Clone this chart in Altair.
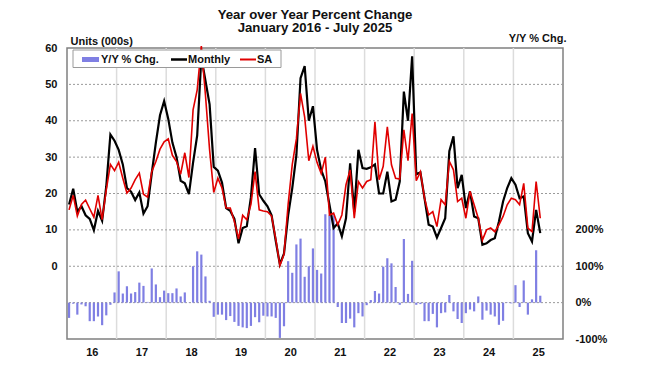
import altair as alt
import pandas as pd

# ---- data (Jan 2016 .. Jul 2025, monthly) ----
monthly = [17.0, 21.3, 15.0, 16.5, 14.0, 13.0, 9.9, 15.2, 12.5, 22.0, 36.2, 34.5,
           32.0, 28.0, 21.5, 20.5, 18.2, 20.3, 14.5, 16.5, 25.5, 34.0, 41.5, 45.4,
           40.5, 34.0, 30.0, 23.5, 22.8, 19.8, 28.5, 36.0, 57.5, 51.0, 44.5, 27.3,
           26.3, 23.0, 16.0, 15.2, 13.0, 6.3, 10.5, 11.0, 19.0, 32.5, 19.8, 18.0,
           16.5, 14.0, 7.0, 0.5, 3.5, 14.0, 21.5, 30.6, 51.7, 55.0, 40.0, 44.0,
           32.0, 26.5, 23.3, 16.9, 10.5, 11.8, 8.2, 13.2, 28.3, 15.0, 32.0, 27.0,
           26.8, 27.2, 28.0, 20.0, 20.0, 26.0, 17.8, 18.3, 23.3, 48.0, 40.0, 57.7,
           25.3, 25.8, 18.7, 11.4, 10.9, 7.9, 10.5, 13.2, 31.6, 35.7, 21.5, 25.1,
           16.0, 20.6, 13.7, 13.2, 5.9, 6.3, 7.2, 7.7, 12.3, 17.8, 21.5, 24.2,
           22.4, 18.7, 19.2, 9.1, 6.8, 15.5, 9.1]

sa = [15.5, 19.5, 13.8, 17.0, 18.2, 15.8, 13.5, 19.5, 12.8, 21.0, 28.0, 26.3,
      28.6, 24.2, 20.1, 21.5, 23.8, 25.6, 19.8, 19.0, 26.0, 28.8, 32.2, 34.2,
      35.0, 30.5, 28.8, 25.3, 31.2, 24.4, 43.0, 48.5, 60.5, 47.0, 32.0, 20.3,
      24.2, 21.5, 16.0, 16.0, 12.3, 7.5, 14.0, 12.8, 17.0, 26.0, 15.5, 15.2,
      15.0, 13.8, 7.5, 0.2, 3.3, 17.0, 28.0, 35.0, 47.5, 41.0, 29.0, 33.0,
      28.5, 25.5, 30.0, 14.1, 14.6, 11.4, 14.1, 22.4, 26.5, 13.2, 23.3, 21.5,
      23.3, 23.8, 39.7, 23.8, 27.5, 38.3, 27.9, 24.2, 24.0, 37.5, 29.0, 42.0,
      23.5, 26.0, 18.7, 14.1, 15.0, 10.9, 18.3, 16.9, 28.8, 26.5, 17.8, 18.7,
      13.2, 20.6, 16.9, 13.2, 7.2, 10.0, 10.5, 9.5, 11.4, 13.7, 16.9, 18.7,
      18.3, 16.9, 22.8, 10.5, 9.5, 23.3, 13.2]

yoy = [-42, -3, -33, -5, -10, -51, -51, -38, -62, -35, -6, 28,
       86, 25, 45, 25, 29, 55, 46, 2, 94, 50, 15, 33,
       26, 26, 39, 17, 28, 0.5, 100, 141, 132, 72, 5, -39,
       -33, -33, -48, -37, -53, -64, -68, -70, -64, -40, -54, -36,
       -38, -38, -42, -97, -65, 114, 82, 160, 176, 71, 100, 149,
       90, 80, 243, 240, 240, -12, -56, -56, -44, -68, -29, -38,
       -7, 7, 32, 25, 99, 122, 108, 43, -6, 175, 24, 115,
       -6, -4, -51, -51, -31, -68, -29, -27, 21, -24, -45, -56,
       -29, -19, -24, 17, -47, -22, -33, -38, -61, -50, -1, -2,
       48, -12, 61, -33, 9, 144, 19]

year_labels = ["16", "17", "18", "19", "20", "21", "22", "23", "24", "25"]
legend_labels = ["Y/Y % Chg.", "Monthly", "SA"]
title_lines = ["Year over Year Percent Change", "January 2016 - July 2025"]
left_ticks = [0, 10, 20, 30, 40, 50, 60]
right_ticks = [-100, 0, 100, 200]
hgrid_units = [-10, 0, 10, 20, 30, 40, 50]

n = len(monthly)
df = pd.DataFrame({"m": [i + 0.5 for i in range(n)],
                   "Monthly": monthly, "SA": sa, "yoy": yoy})
n_months_axis = 12 * len(year_labels)
year_bounds = pd.DataFrame({"b": [12 * k for k in range(1, len(year_labels))]})
year_mid = [12 * k + 6 for k in range(len(year_labels))]

FONT = "Liberation Sans"
BAR = "#7f7fe3"

xscale = alt.Scale(domain=[0, n_months_axis], nice=False, zero=False, padding=0)
yleft = alt.Scale(domain=[-20, 60], nice=False, zero=False)
yright = alt.Scale(domain=[-100, 700], nice=False, zero=False)

label_arr = "[" + ",".join("'%s'" % s for s in year_labels) + "]"
xaxis = alt.Axis(values=year_mid, labelExpr=label_arr + "[floor(datum.value / 12)]",
                 grid=False, ticks=False, domain=False, labelFlush=False,
                 labelPadding=7, labelFontSize=11, labelFontWeight="bold",
                 labelColor="#111", title=None)

vgrid = alt.Chart(year_bounds).mark_rule(color="#dcdcdc", strokeWidth=1.5).encode(
    x=alt.X("b:Q", scale=xscale, axis=xaxis))

hgrid = alt.Chart(pd.DataFrame({"v": hgrid_units})).mark_rule(
    color="#9a9a9a", strokeDash=[2, 2], strokeWidth=1).encode(
    y=alt.Y("v:Q", scale=yleft, axis=None))

bars = alt.Chart(df).mark_bar(size=2.2, color=BAR).encode(
    x=alt.X("m:Q", scale=xscale, axis=xaxis),
    y=alt.Y("yoy:Q", scale=yright,
            axis=alt.Axis(orient="right", values=right_ticks,
                          labelExpr="datum.value + '%'", grid=False, ticks=False,
                          domain=False, labelPadding=12, labelFontSize=11,
                          labelFontWeight="bold", labelColor="#111",
                          title="Y/Y % Chg.", titleAngle=0, titleAlign="right",
                          titleBaseline="alphabetic", titleX=3, titleY=-7,
                          titleFontSize=11, titleFontWeight="bold", titleColor="#111")),
    y2=alt.datum(0))

black = alt.Chart(df).mark_line(color="black", strokeWidth=2.2).encode(
    x=alt.X("m:Q", scale=xscale, axis=xaxis),
    y=alt.Y("Monthly:Q", scale=yleft,
            axis=alt.Axis(orient="left", values=left_ticks, grid=False, ticks=False,
                          domain=False, labelPadding=10, labelFontSize=11,
                          labelFontWeight="bold", labelColor="#111",
                          title="Units (000s)", titleAngle=0, titleAlign="left",
                          titleBaseline="alphabetic", titleX=3, titleY=-4,
                          titleFontSize=11, titleFontWeight="bold", titleColor="#111")))

red = alt.Chart(df).mark_line(color="#e00000", strokeWidth=1.6).encode(
    x=alt.X("m:Q", scale=xscale, axis=xaxis),
    y=alt.Y("SA:Q", scale=yleft, axis=None))

one = alt.Data(values=[{"k": 0}])
leg_box = alt.Chart(one).mark_rect(fill="white", stroke="#9a9a9a", strokeWidth=1).encode(
    x=alt.value(6), x2=alt.value(214), y=alt.value(2), y2=alt.value(19.5))
leg_bar = alt.Chart(one).mark_rect(color=BAR).encode(
    x=alt.value(15), x2=alt.value(32), y=alt.value(9), y2=alt.value(14))
leg_black = alt.Chart(one).mark_rule(color="black", strokeWidth=2.5).encode(
    x=alt.value(104), x2=alt.value(120), y=alt.value(11.5))
leg_red = alt.Chart(one).mark_rule(color="#e00000", strokeWidth=2).encode(
    x=alt.value(173), x2=alt.value(189), y=alt.value(11.5))

def leg_text(label, xpos):
    return alt.Chart(one).mark_text(align="left", baseline="middle", fontSize=11,
                                    fontWeight="bold", font=FONT, color="#111").encode(
        x=alt.value(xpos), y=alt.value(11.5), text=alt.value(label))

chart = alt.layer(
    vgrid, hgrid, bars, black, red,
    leg_box, leg_bar, leg_black, leg_red,
    leg_text(legend_labels[0], 34), leg_text(legend_labels[1], 121),
    leg_text(legend_labels[2], 190),
).resolve_scale(y="independent").properties(
    width=496, height=291,
    autosize=alt.AutoSizeParams(type="none"),
    padding={"left": 59, "top": 40, "right": 79, "bottom": 19},
    title=alt.Title(title_lines, fontSize=13.2, fontWeight="bold", font=FONT,
                    color="#111", anchor="middle", offset=-3.5, lineHeight=13.5),
).configure(font=FONT).configure_view(stroke="#808080", strokeWidth=1.5)

chart.save("out.html", embed_options={"renderer": "svg", "actions": False})
